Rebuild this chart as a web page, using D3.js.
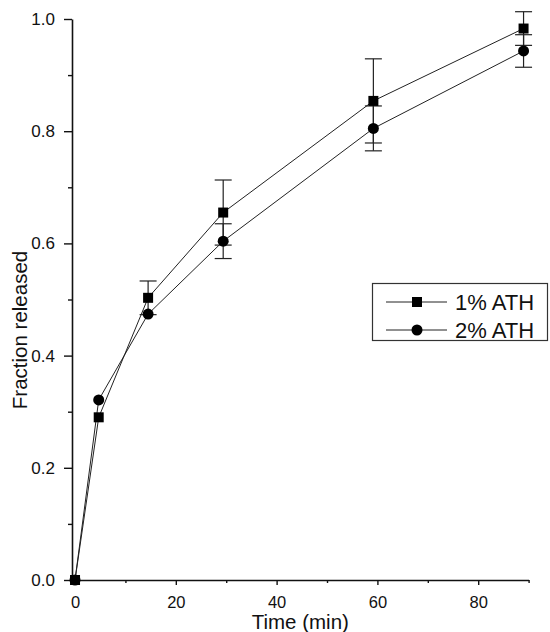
<!DOCTYPE html>
<html>
<head>
<meta charset="utf-8">
<script src="https://cdn.jsdelivr.net/npm/d3@7"></script>
<style>
  html, body { margin: 0; padding: 0; background: #fff; }
  svg { display: block; font-family: "Liberation Sans", Arial, sans-serif; }
</style>
</head>
<body>
<svg id="chart" width="550" height="632"></svg>
<script>
// ---- data ----
const times = [0, 4.7, 14.5, 29.4, 59.2, 89];
const series1Name = "1% ATH";
const series1 = [0, 0.29, 0.503, 0.655, 0.854, 0.983];
const series1Err = [0, 0, 0.03, 0.058, 0.075, 0.03];
const series2Name = "2% ATH";
const series2 = [0, 0.321, 0.474, 0.604, 0.805, 0.943];
const series2Err = [0, 0, 0, 0.031, 0.04, 0.029];
const xMajorTicks = [0, 20, 40, 60, 80];
const xMinorTicks = [10, 30, 50, 70, 90];
const yMajorTicks = [0.0, 0.2, 0.4, 0.6, 0.8, 1.0];
const yMinorTicks = [0.1, 0.3, 0.5, 0.7, 0.9];
const xTitle = "Time (min)";
const yTitle = "Fraction released";

// ---- layout ----
const svg = d3.select("#chart");
const x = d3.scaleLinear().domain([-0.6, 90]).range([72, 528.6]);
const y = d3.scaleLinear().domain([0, 1]).range([580, 19]);
const ink = "#111";

// axes
const gx = svg.append("g").attr("transform", `translate(0,${y(0)})`);
gx.call(d3.axisBottom(x).tickValues(xMajorTicks).tickSize(5).tickPadding(11).tickFormat(d3.format("d")).tickSizeOuter(0));
gx.append("g").call(d3.axisBottom(x).tickValues(xMinorTicks).tickSize(3).tickFormat("").tickSizeOuter(0))
  .select(".domain").remove();

const gy = svg.append("g").attr("transform", `translate(${x.range()[0]},0)`);
gy.call(d3.axisLeft(y).tickValues(yMajorTicks).tickSize(8).tickPadding(9).tickFormat(d3.format(".1f")).tickSizeOuter(0));
gy.append("g").call(d3.axisLeft(y).tickValues(yMinorTicks).tickSize(4).tickFormat("").tickSizeOuter(0))
  .select(".domain").remove();

svg.selectAll(".domain").attr("stroke", ink).attr("stroke-width", 1.6);
svg.selectAll(".tick line").attr("stroke", ink).attr("stroke-width", 1.4);
gy.selectAll(".tick text").attr("font-size", 17);
gx.selectAll(".tick text").attr("font-size", 16.5);
svg.selectAll(".tick text").attr("fill", ink)
  .attr("font-family", '"Liberation Sans", Arial, sans-serif');

// titles
svg.append("text").attr("x", (x.range()[0] + x.range()[1]) / 2).attr("y", 629)
  .attr("text-anchor", "middle").attr("font-size", 20.5).attr("fill", ink).text(xTitle);
svg.append("text").attr("transform", `translate(27,330) rotate(-90)`)
  .attr("text-anchor", "middle").attr("font-size", 20.5).attr("fill", ink).text(yTitle);

// series
const data1 = times.map((t, i) => ({ t, v: series1[i], e: series1Err[i] }));
const data2 = times.map((t, i) => ({ t, v: series2[i], e: series2Err[i] }));
const line = d3.line().x(d => x(d.t)).y(d => y(d.v));

[data2, data1].forEach(ds => {
  svg.append("path").datum(ds).attr("d", line).attr("fill", "none")
    .attr("stroke", "#222").attr("stroke-width", 1);
});

const capW = 8.5;
[data1, data2].forEach(ds => {
  const g = svg.append("g").attr("stroke", "#222").attr("stroke-width", 1.2);
  ds.filter(d => d.e > 0).forEach(d => {
    const cx = x(d.t);
    g.append("line").attr("x1", cx).attr("x2", cx).attr("y1", y(d.v - d.e)).attr("y2", y(d.v + d.e));
    g.append("line").attr("x1", cx - capW).attr("x2", cx + capW).attr("y1", y(d.v + d.e)).attr("y2", y(d.v + d.e));
    g.append("line").attr("x1", cx - capW).attr("x2", cx + capW).attr("y1", y(d.v - d.e)).attr("y2", y(d.v - d.e));
  });
});

svg.append("g").selectAll("circle").data(data2).join("circle")
  .attr("cx", d => x(d.t)).attr("cy", d => y(d.v)).attr("r", 5.5).attr("fill", "#000");
svg.append("g").selectAll("rect").data(data1).join("rect")
  .attr("x", d => x(d.t) - 5).attr("y", d => y(d.v) - 5).attr("width", 10).attr("height", 10).attr("fill", "#000");

// legend
const lg = svg.append("g");
lg.append("rect").attr("x", 372.5).attr("y", 283.5).attr("width", 175).attr("height", 57)
  .attr("fill", "#fff").attr("stroke", "#333").attr("stroke-width", 1.2);
const rows = [{ name: series1Name, shape: "square", cy: 302 }, { name: series2Name, shape: "circle", cy: 330 }];
rows.forEach(r => {
  lg.append("line").attr("x1", 386).attr("x2", 447).attr("y1", r.cy).attr("y2", r.cy)
    .attr("stroke", "#222").attr("stroke-width", 1);
  if (r.shape === "square") {
    lg.append("rect").attr("x", 412).attr("y", r.cy - 5).attr("width", 10).attr("height", 10).attr("fill", "#000");
  } else {
    lg.append("circle").attr("cx", 417).attr("cy", r.cy).attr("r", 5.5).attr("fill", "#000");
  }
  lg.append("text").attr("x", 455).attr("y", r.cy + 8).attr("font-size", 22).attr("fill", ink).text(r.name);
});
</script>
</body>
</html>
